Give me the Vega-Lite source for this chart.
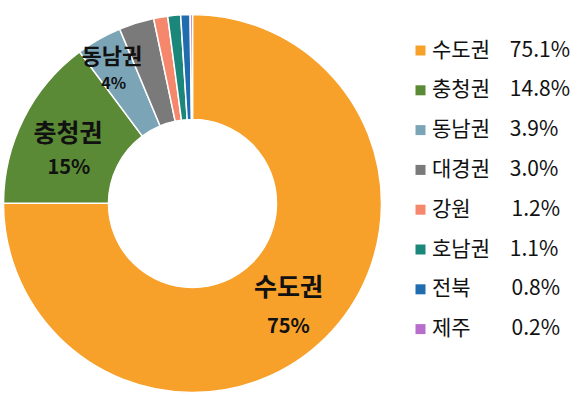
{
  "$schema": "https://vega.github.io/schema/vega-lite/v6.json",
  "padding": {"left": 0, "top": 4, "right": 0, "bottom": 0},
  "width": 381,
  "height": 399,
  "background": "white",
  "config": {"view": {"stroke": null}, "font": "Noto Sans CJK KR"},
  "data": {"values": [
    {"region": "수도권", "value": 75.1, "rank": 1, "entry": "수도권\u2002\u00a0\u00a075.1%", "pct": "75%"},
    {"region": "충청권", "value": 14.8, "rank": 2, "entry": "충청권\u2002\u00a0\u00a014.8%", "pct": "15%"},
    {"region": "동남권", "value": 3.9, "rank": 3, "entry": "동남권\u2002\u00a0\u00a03.9%", "pct": "4%"},
    {"region": "대경권", "value": 3.0, "rank": 4, "entry": "대경권\u2002\u00a0\u00a03.0%", "pct": "3%"},
    {"region": "강원", "value": 1.2, "rank": 5, "entry": "강원\u3000\u2002\u00a0\u00a01.2%", "pct": "1%"},
    {"region": "호남권", "value": 1.1, "rank": 6, "entry": "호남권\u2002\u00a0\u00a01.1%", "pct": "1%"},
    {"region": "전북", "value": 0.8, "rank": 7, "entry": "전북\u3000\u2002\u00a0\u00a00.8%", "pct": "1%"},
    {"region": "제주", "value": 0.2, "rank": 8, "entry": "제주\u3000\u2002\u00a0\u00a00.2%", "pct": "0%"}
  ]},
  "encoding": {
    "theta": {"field": "value", "type": "quantitative", "stack": true},
    "order": {"field": "rank", "type": "quantitative"}
  },
  "layer": [
    {
      "mark": {"type": "arc", "outerRadius": 189, "innerRadius": 84, "stroke": "white", "strokeWidth": 1.5},
      "encoding": {
        "color": {
          "field": "entry", "type": "nominal",
          "scale": {
            "domain": ["수도권\u2002\u00a0\u00a075.1%", "충청권\u2002\u00a0\u00a014.8%", "동남권\u2002\u00a0\u00a03.9%", "대경권\u2002\u00a0\u00a03.0%", "강원\u3000\u2002\u00a0\u00a01.2%", "호남권\u2002\u00a0\u00a01.1%", "전북\u3000\u2002\u00a0\u00a00.8%", "제주\u3000\u2002\u00a0\u00a00.2%"],
            "range": ["#F7A02A", "#5A8A35", "#7BA5B7", "#7A7A7A", "#F4876C", "#1A877A", "#1F6DAE", "#B66DCB"]
          },
          "legend": {
            "title": null, "orient": "none", "legendX": 408, "legendY": 36,
            "symbolType": "square", "symbolSize": 100, "symbolStrokeWidth": 0,
            "labelFontSize": 21, "labelColor": "#111111", "labelOffset": 1,
            "rowPadding": 17.8, "labelLimit": 300, "padding": 0
          }
        }
      }
    },
    {
      "mark": {"type": "text", "radius": 140, "fontSize": 25, "fontWeight": "bold", "color": "#111111", "dx": -3, "dy": -15},
      "encoding": {"text": {"condition": {"test": "datum.region === '수도권'", "field": "region"}, "value": ""}}
    },
    {
      "mark": {"type": "text", "radius": 140, "fontSize": 20, "fontWeight": "bold", "color": "#111111", "dx": -3, "dy": 24},
      "encoding": {"text": {"condition": {"test": "datum.region === '수도권'", "field": "pct"}, "value": ""}}
    },
    {
      "mark": {"type": "text", "radius": 135, "fontSize": 25, "fontWeight": "bold", "color": "#111111", "dx": -4, "dy": -9},
      "encoding": {"text": {"condition": {"test": "datum.region === '충청권'", "field": "region"}, "value": ""}}
    },
    {
      "mark": {"type": "text", "radius": 135, "fontSize": 20, "fontWeight": "bold", "color": "#111111", "dx": -3, "dy": 25},
      "encoding": {"text": {"condition": {"test": "datum.region === '충청권'", "field": "pct"}, "value": ""}}
    },
    {
      "mark": {"type": "text", "radius": 155, "fontSize": 22, "fontWeight": "bold", "color": "#111111", "dx": -4, "dy": -12},
      "encoding": {"text": {"condition": {"test": "datum.region === '동남권'", "field": "region"}, "value": ""}}
    },
    {
      "mark": {"type": "text", "radius": 155, "fontSize": 16, "fontWeight": "bold", "color": "#111111", "dx": -2, "dy": 15},
      "encoding": {"text": {"condition": {"test": "datum.region === '동남권'", "field": "pct"}, "value": ""}}
    }
  ]
}
